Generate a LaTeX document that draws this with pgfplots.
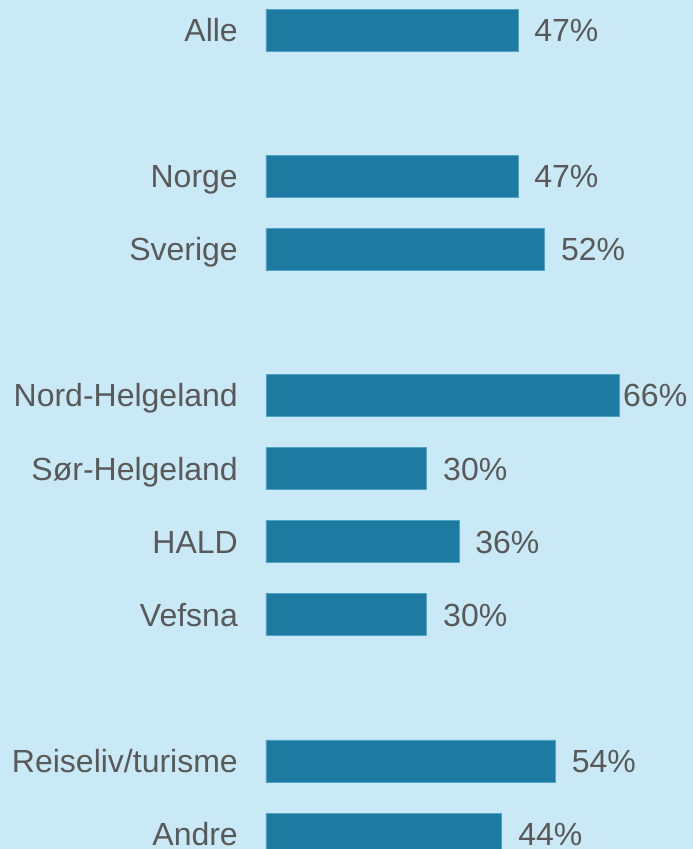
\documentclass[border=0pt]{standalone}
\usepackage{pgfplots}
\pgfplotsset{compat=1.18}
\usepackage{fontspec}
\setmainfont{Liberation Sans}
\definecolor{bg}{HTML}{CAE9F6}
\definecolor{barc}{HTML}{1D7BA1}
\definecolor{bare}{HTML}{4FA3C7}
\definecolor{txt}{HTML}{595959}
\begin{document}
\begin{tikzpicture}
\useasboundingbox (0,0) rectangle (693pt,849pt);
\fill[bg] (0,0) rectangle (693pt,849pt);
\begin{axis}[
  at={(266pt,0pt)}, anchor=south west,
  scale only axis, width=427pt, height=849pt,
  xbar, bar width=42pt, bar shift=0pt,
  xmin=0, xmax=79.66,
  y dir=reverse, ymin=-0.4105, ymax=11.205,
  axis line style={draw=none},
  xtick=\empty,
  ytick={0,2,3,5,6,7,8,10,11},
  yticklabels={Alle,Norge,Sverige,Nord-Helgeland,Sør-Helgeland,HALD,Vefsna,Reiseliv/turisme,Andre},
  major tick length=0pt,
  tick style={draw=none},
  /pgf/number format/assume math mode=true,
  yticklabel style={anchor=base east, inner sep=0pt, xshift=-28pt, yshift=-11.5pt, font=\fontsize{32}{36}\selectfont, text=txt},
  every node near coord/.append style={anchor=base west, inner sep=0pt, yshift=-11.5pt, font=\fontsize{32}{36}\selectfont, text=txt},
  nodes near coords={\pgfmathprintnumber{\pgfplotspointmeta}\%},
]
\addplot[fill=barc, draw=bare, line width=0.8pt, every node near coord/.append style={xshift=16pt}] coordinates {
  (47,0) (47,2) (52,3) (30,6) (36,7) (30,8) (54,10) (44,11)
};
\addplot[fill=barc, draw=bare, line width=0.8pt, every node near coord/.append style={xshift=3pt}] coordinates {
  (66,5)
};
\end{axis}
\end{tikzpicture}
\end{document}
